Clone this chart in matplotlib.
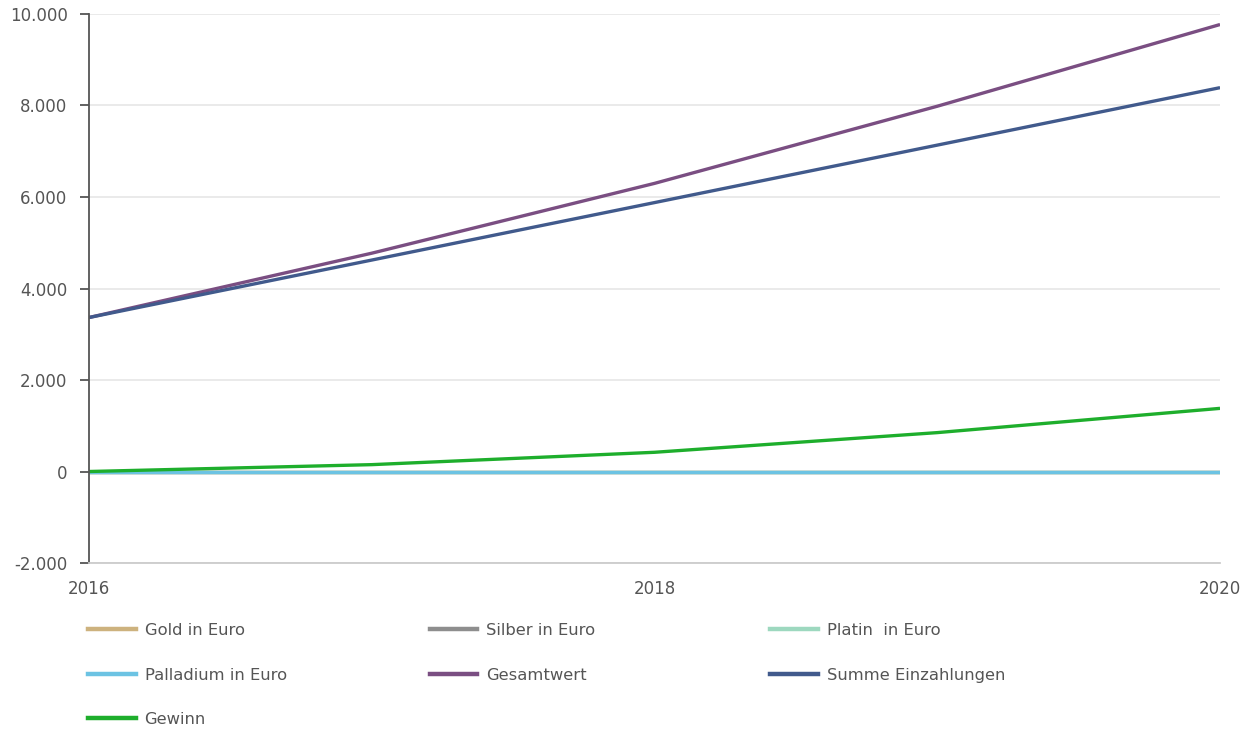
import matplotlib
matplotlib.use("Agg")
import matplotlib.pyplot as plt
from matplotlib.lines import Line2D

years = [2016, 2017, 2018, 2019, 2020]
gold = [0, 0, 0, 0, 0]
silber = [0, 0, 0, 0, 0]
platin = [0, 0, 0, 0, 0]
palladium = [0, 0, 0, 0, 0]
einzahlungen = [3366, 4622, 5878, 7134, 8390]
gewinn = [0, 150, 420, 850, 1380]
gesamtwert = [3366, 4772, 6298, 7984, 9770]

series = [
    ("Gold in Euro", gold, "#cdb27e"),
    ("Silber in Euro", silber, "#8e8e8e"),
    ("Platin  in Euro", platin, "#9dd8bf"),
    ("Palladium in Euro", palladium, "#6cc3e3"),
    ("Gesamtwert", gesamtwert, "#7a4e82"),
    ("Summe Einzahlungen", einzahlungen, "#415a8c"),
    ("Gewinn", gewinn, "#1eae2c"),
]

yticks = [-2000, 0, 2000, 4000, 6000, 8000, 10000]
ytick_labels = ["-2.000", "0", "2.000", "4.000", "6.000", "8.000", "10.000"]
xticks = [2016, 2018, 2020]

txt = "#555555"
plt.rcParams['font.family'] = ['DejaVu Sans']

fig = plt.figure(figsize=(12.49, 7.29), dpi=100)
ax = fig.add_axes([0.0713, 0.2277, 0.9055, 0.7531])

handles = {}
for name, vals, col in series:
    h, = ax.plot(years, vals, color=col, lw=2.4, solid_capstyle='butt', label=name)
    handles[name] = h

ax.set_xlim(2016, 2020)
ax.set_ylim(-2000, 10000)
ax.set_yticks(yticks)
ax.set_yticklabels(ytick_labels)
ax.set_xticks(xticks)
ax.set_xticklabels([str(x) for x in xticks])
ax.grid(axis='y', color='#e6e6e6', lw=1.2)
ax.set_axisbelow(True)
for s in ['top', 'right']:
    ax.spines[s].set_visible(False)
ax.spines['left'].set_color('#555555')
ax.spines['left'].set_linewidth(1.3)
ax.spines['bottom'].set_color('#cccccc')
ax.spines['bottom'].set_linewidth(1.3)
ax.tick_params(axis='y', length=6.5, width=1.3, color='#555555', labelsize=12, labelcolor=txt, pad=9)
ax.tick_params(axis='x', length=0, labelsize=12, labelcolor=txt, pad=12)

cols = [["Gold in Euro", "Palladium in Euro", "Gewinn"],
        ["Silber in Euro", "Gesamtwert"],
        ["Platin  in Euro", "Summe Einzahlungen"]]
xpos = [0.0705, 0.344, 0.6165]
for names, x in zip(cols, xpos):
    hs = [Line2D([0], [0], color=handles[n].get_color(), lw=3.2) for n in names]
    leg = fig.legend(hs, names, loc='upper left', bbox_to_anchor=(x, 0.1454),
                     frameon=False, handlelength=2.9, handletextpad=0.55,
                     labelspacing=1.8, fontsize=11.8, labelcolor=txt,
                     borderaxespad=0, borderpad=0)
fig.savefig("out.png", dpi=100)
